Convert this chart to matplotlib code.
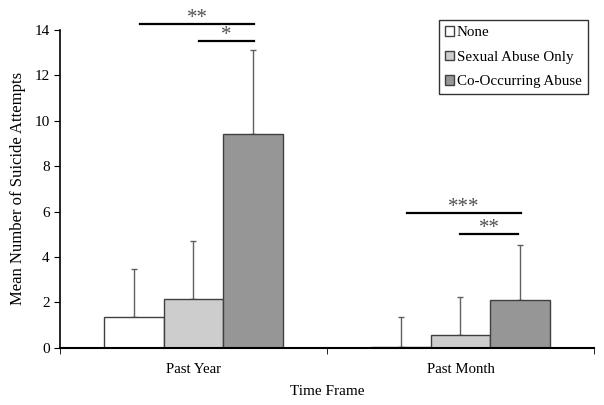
import numpy as np
import matplotlib.pyplot as plt

plt.rcParams['font.family'] = ['Liberation Serif', 'DejaVu Serif']

frames = ['Past Year', 'Past Month']
groups = ['None', 'Sexual Abuse Only', 'Co-Occurring Abuse']
means = {
    'None': [1.35, 0.05],
    'Sexual Abuse Only': [2.17, 0.57],
    'Co-Occurring Abuse': [9.43, 2.11],
}
err_top = {
    'None': [3.47, 1.38],
    'Sexual Abuse Only': [4.70, 2.26],
    'Co-Occurring Abuse': [13.1, 4.54],
}
colors = ['white', '#cdcdcd', '#969696']

# significance brackets: frame index, start / end offset from the frame centre, height, label
sig_frame = [0, 0, 1, 1]
sig_start = [-0.2, 0.02, -0.2, 0.0]
sig_end = [0.228, 0.228, 0.225, 0.215]
sig_height = [14.26, 13.5, 5.93, 5.02]
sig_label = ['**', '*', '***', '**']

fig = plt.figure(figsize=(6.04, 4.05), dpi=100)
ax = fig.add_axes([0.0993, 0.141, 0.8841, 0.785])

x = np.arange(len(frames)) + 0.5
w = 0.223
for i, g in enumerate(groups):
    pos = x + (i - 1) * w
    vals = np.array(means[g])
    up = np.array(err_top[g]) - vals
    ax.bar(pos, vals, w, color=colors[i], edgecolor='#404040', linewidth=1, label=g, zorder=2)
    ax.errorbar(pos, vals, yerr=[np.zeros_like(up), up], fmt='none', ecolor='#606060',
                elinewidth=1, capsize=2.5, capthick=1, zorder=1)

for f, s, e, h, lab in zip(sig_frame, sig_start, sig_end, sig_height, sig_label):
    ax.plot([x[f] + s, x[f] + e], [h, h], color='black', lw=1.6, clip_on=False)
    ax.text((x[f] + s + x[f] + e) / 2, h - 0.18, lab, ha='center', va='bottom',
            fontsize=15, color='#505050', clip_on=False)

ax.set_xlim(0, 2)
ax.set_ylim(0, 14)
ax.set_yticks(range(0, 15, 2))
ax.set_xticks(x)
ax.set_xticklabels(frames)
ax.set_xticks([0, 1, 2], minor=True)
ax.tick_params(axis='x', which='major', length=0, pad=11, labelsize=10.7)
ax.tick_params(axis='x', which='minor', length=4, direction='out')
ax.tick_params(axis='y', labelsize=11, length=4, direction='out')
for sp in ['top', 'right']:
    ax.spines[sp].set_visible(False)
ax.spines['bottom'].set_linewidth(1.5)
ax.spines['left'].set_linewidth(1.2)

ax.set_ylabel('Mean Number of Suicide Attempts', fontsize=12, labelpad=6)
ax.set_xlabel('Time Frame', fontsize=11, labelpad=6)

leg = ax.legend(loc='upper right', bbox_to_anchor=(0.988, 1.03), fontsize=10.8, frameon=True,
                fancybox=False, edgecolor='black', handlelength=0.6, handleheight=0.6,
                handletextpad=0.2, borderpad=0.4, labelspacing=0.75, borderaxespad=0)
leg.get_frame().set_linewidth(1)

fig.savefig('out.png', dpi=100)
